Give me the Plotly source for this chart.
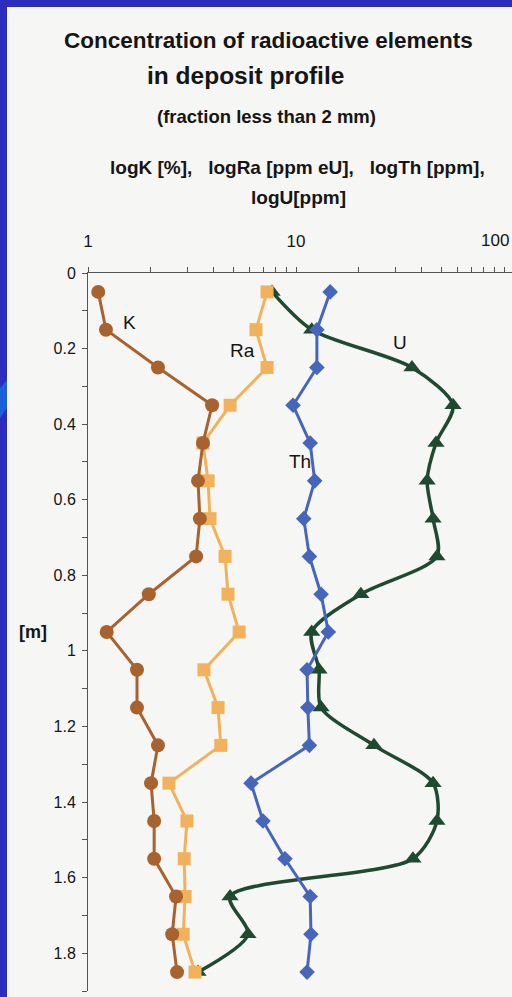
import math
import plotly.graph_objects as go

# ---- data ----
depth = [0.05, 0.15, 0.25, 0.35, 0.45, 0.55, 0.65, 0.75, 0.85, 0.95,
         1.05, 1.15, 1.25, 1.35, 1.45, 1.55, 1.65, 1.75, 1.85]
K_pct = [1.12, 1.22, 2.17, 3.95, 3.57, 3.38, 3.45, 3.31, 1.96, 1.23,
         1.72, 1.72, 2.17, 2.01, 2.08, 2.08, 2.65, 2.54, 2.68]
Ra_ppm = [7.26, 6.42, 7.26, 4.82, 3.57, 3.78, 3.86, 4.56, 4.71, 5.33,
          3.61, 4.22, 4.35, 2.45, 2.99, 2.90, 2.93, 2.87, 3.27]
Th_ppm = [14.6, 12.6, 12.6, 9.68, 11.7, 12.3, 10.9, 11.6, 13.2, 14.3,
          11.3, 11.4, 11.6, 6.08, 6.94, 8.85, 11.7, 11.8, 11.3]
U_ppm = [7.67, 11.9, 36.1, 56.9, 47.1, 42.7, 45.6, 47.6, 20.5, 11.9,
         12.9, 13.2, 23.7, 45.6, 47.6, 36.5, 4.82, 5.88, 3.38]

x_tick_vals = [1, 2, 3, 4, 5, 6, 7, 8, 9, 10, 20, 30, 40, 50, 60, 70, 80, 90, 100]
x_tick_text = ["1", "", "", "", "", "", "", "", "", "10", "", "", "", "", "", "", "", "", ""]
y_tick_vals = [0, 0.1, 0.2, 0.3, 0.4, 0.5, 0.6, 0.7, 0.8, 0.9, 1.0,
               1.1, 1.2, 1.3, 1.4, 1.5, 1.6, 1.7, 1.8, 1.9]
y_tick_text = ["0", "", "0.2", "", "0.4", "", "0.6", "", "0.8", "", "1",
               "", "1.2", "", "1.4", "", "1.6", "", "1.8", ""]

series_labels = ["K", "Ra", "Th", "U"]
label_x = [1.59, 5.56, 10.5, 31.6]
label_y = [0.132, 0.204, 0.50, 0.185]

# ---- figure ----
W, H = 512, 997
ML, MR, MT, MB = 88, 0, 273, 6
PW, PH = W - ML - MR, H - MT - MB


def px(xp):
    return (xp - ML) / PW


def py(yp):
    return (H - MB - yp) / PH


BG = "#f6f6f4"
fig = go.Figure()

fig.add_trace(go.Scatter(x=U_ppm, y=depth, mode="lines+markers", name="U",
                         line=dict(color="#1f4a30", width=3.5, shape="spline", smoothing=0.8),
                         marker=dict(symbol="triangle-up", size=15, color="#1f4a30")))
fig.add_trace(go.Scatter(x=Th_ppm, y=depth, mode="lines+markers", name="Th",
                         line=dict(color="#4666bb", width=3),
                         marker=dict(symbol="diamond", size=12, color="#4666bb")))
fig.add_trace(go.Scatter(x=Ra_ppm, y=depth, mode="lines+markers", name="Ra",
                         line=dict(color="#f2b25c", width=3),
                         marker=dict(symbol="square", size=13, color="#f2b25c")))
fig.add_trace(go.Scatter(x=K_pct, y=depth, mode="lines+markers", name="K",
                         line=dict(color="#a8622e", width=3),
                         marker=dict(symbol="circle", size=14, color="#a8622e")))

REG = "Liberation Sans, Arial, sans-serif"

annotations = []
for t, xv, yv in zip(series_labels, label_x, label_y):
    annotations.append(dict(x=math.log10(xv), y=yv, xref="x", yref="y", text=t, showarrow=False,
                            font=dict(family=REG, size=19, color="#151515")))

titles = [
    ("<b>Concentration of radioactive elements</b>", 268, 40, 22.5),
    ("<b>in deposit profile</b>", 245, 76, 24.5),
    ("<b>(fraction less than 2 mm)</b>", 266, 117, 18.5),
    ("<b>logK [%],   logRa [ppm eU],   logTh [ppm],</b>", 297, 167, 19),
    ("<b>logU[ppm]</b>", 298, 197, 19),
    ("<b>[m]</b>", 33, 632, 18),
]
for t, xp, yp, s in titles:
    annotations.append(dict(x=px(xp), y=py(yp), xref="paper", yref="paper", text=t,
                            showarrow=False, xanchor="center", yanchor="middle",
                            font=dict(family=REG, size=s, color="#151515")))

# the "100" label: kept fully inside the picture by anchoring at its right end
annotations.append(dict(x=px(W - 1), y=py(240), xref="paper", yref="paper", text="100",
                        showarrow=False, xanchor="right", yanchor="middle",
                        font=dict(family=REG, size=17, color="#151515")))

BLUE = "#2d2dbd"
shapes = [
    dict(type="rect", xref="paper", yref="paper", x0=px(-20), x1=px(7), y0=py(1100), y1=py(-20),
         fillcolor=BLUE, line=dict(width=0), layer="above"),
    dict(type="rect", xref="paper", yref="paper", x0=px(-20), x1=px(600), y0=py(7), y1=py(-20),
         fillcolor=BLUE, line=dict(width=0), layer="above"),
    dict(type="path", xref="paper", yref="paper",
         path=f"M {px(0)},{py(388)} L {px(7)},{py(380)} L {px(7)},{py(408)} L {px(0)},{py(418)} Z",
         fillcolor="#1a60d8", line=dict(width=0), layer="above"),
]

fig.update_layout(
    width=W, height=H,
    margin=dict(l=ML, r=MR, t=MT, b=MB, pad=0),
    paper_bgcolor=BG, plot_bgcolor=BG,
    showlegend=False,
    annotations=annotations,
    shapes=shapes,
    xaxis=dict(type="log", range=[0, (W - ML) / 208.0], side="top",
               tickvals=x_tick_vals, ticktext=x_tick_text,
               ticks="outside", ticklen=5, tickwidth=1, tickcolor="#555",
               showline=True, linecolor="#555", linewidth=1,
               showgrid=False, zeroline=False, ticklabelstandoff=13,
               tickfont=dict(family=REG, size=17, color="#151515")),
    yaxis=dict(range=[1.9, 0], tickvals=y_tick_vals, ticktext=y_tick_text,
               ticks="outside", ticklen=5, tickwidth=1, tickcolor="#555",
               showline=True, linecolor="#555", linewidth=1,
               showgrid=False, zeroline=False, ticklabelstandoff=3,
               tickfont=dict(family=REG, size=16, color="#151515")),
)

fig.write_html("out.html", config={"displayModeBar": False},
               post_script="document.body.style.margin='0';document.body.style.overflow='hidden';")
